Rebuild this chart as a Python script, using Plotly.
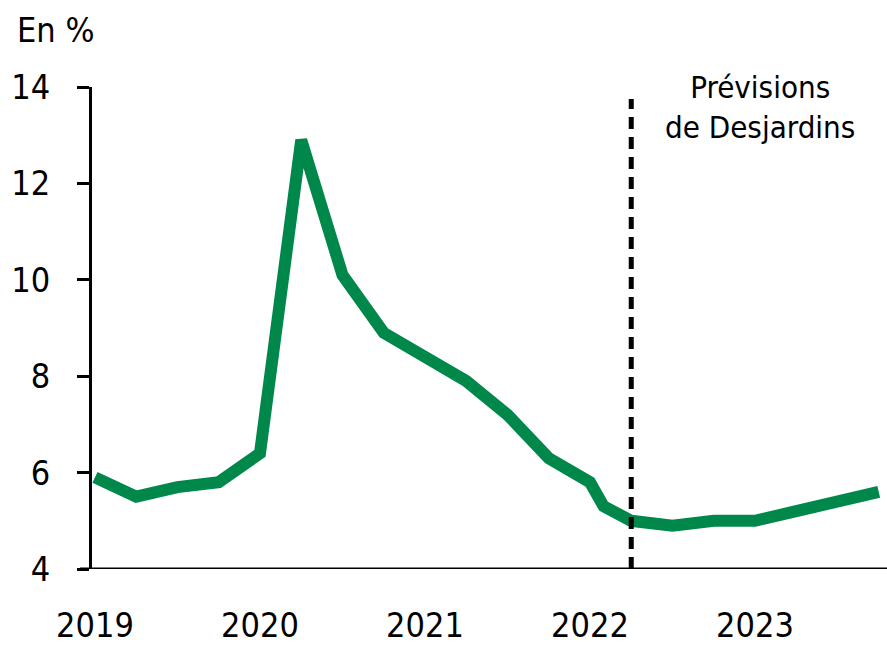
import plotly.graph_objects as go

# Data (years as decimal, quarterly; Feb-2022 point included)
periods = [2019.0, 2019.25, 2019.5, 2019.75,
           2020.0, 2020.25, 2020.5, 2020.75,
           2021.0, 2021.25, 2021.5, 2021.75,
           2022.0, 2022.083, 2022.25, 2022.5, 2022.75,
           2023.0, 2023.25, 2023.5, 2023.75]
taux = [5.9, 5.5, 5.7, 5.8,
        6.4, 12.9, 10.1, 8.9,
        8.4, 7.9, 7.2, 6.3,
        5.8, 5.3, 5.0, 4.9, 5.0,
        5.0, 5.2, 5.4, 5.6]
year_ticks = [2019, 2020, 2021, 2022, 2023]
year_labels = ["2019", "2020", "2021", "2022", "2023"]
y_ticks = [4, 6, 8, 10, 12, 14]
forecast_start = 2022.25
forecast_label = "Prévisions<br>de Desjardins"

FONT = "DejaVu Sans Condensed, Roboto, sans-serif"

fig = go.Figure()
fig.add_trace(go.Scatter(
    x=periods, y=taux, mode="lines",
    line=dict(color="#00874A", width=12),
    hoverinfo="skip", showlegend=False,
))

fig.add_shape(type="line", xref="x", yref="y",
              x0=forecast_start, x1=forecast_start, y0=4, y1=13.75,
              line=dict(color="black", width=5, dash="12px,8px"))

fig.add_annotation(x=(760 - 92) / 795, y=1 + 20 / 488, xref="paper", yref="paper",
                   text=forecast_label, showarrow=False,
                   font=dict(family=FONT, size=31, color="black"),
                   align="center", yanchor="top", xanchor="center")

fig.add_annotation(x=-77 / 795, y=1 + 80 / 488, xref="paper", yref="paper",
                   text="En %", showarrow=False, xanchor="left", yanchor="top",
                   font=dict(family=FONT, size=34, color="black"))

fig.update_layout(
    width=887, height=645,
    margin=dict(l=92, r=0, t=87, b=70),
    paper_bgcolor="white", plot_bgcolor="white",
    font=dict(family=FONT, size=34, color="black"),
)
fig.update_xaxes(
    range=[2018.982, 2023.8], tickvals=year_ticks, ticktext=year_labels,
    showgrid=False, zeroline=False, showline=False, ticks="",
    ticklabelstandoff=33,
)
fig.update_yaxes(
    range=[4, 14], tickvals=y_ticks, showgrid=False, zeroline=False,
    showline=True, linecolor="black", linewidth=3,
    ticks="outside", ticklen=12, tickwidth=3, tickcolor="black",
    ticklabelstandoff=20,
)
# x axis baseline extending left like the tick at 4
fig.add_shape(type="line", xref="paper", yref="y", x0=-12 / 795, x1=1, y0=4, y1=4,
              line=dict(color="black", width=3))

fig.write_html("out.html", config={"displayModeBar": False},
               post_script="document.body.style.margin='0';document.body.style.padding='0';document.body.style.overflow='hidden';")
